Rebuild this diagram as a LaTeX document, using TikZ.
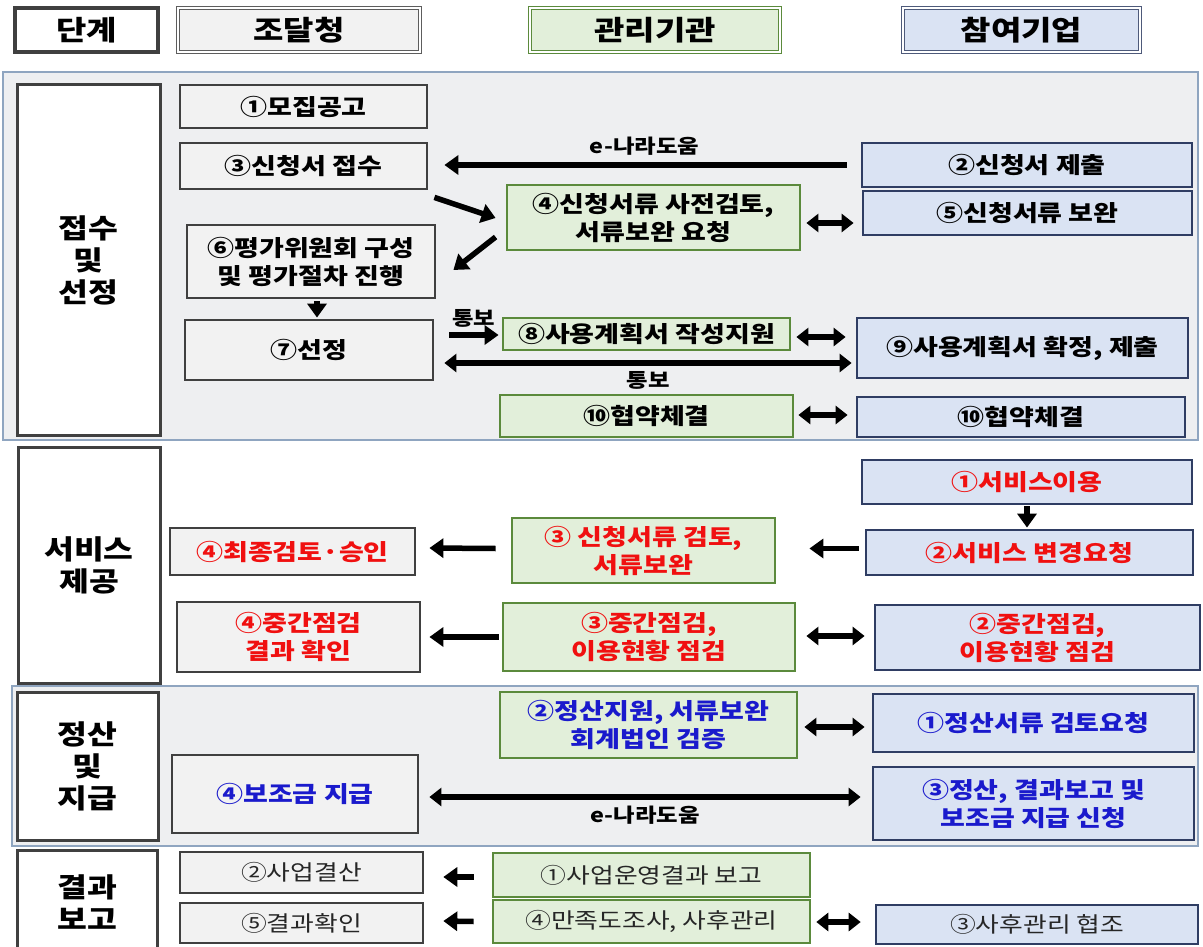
\documentclass[tikz,border=0pt]{standalone}
\usepackage{fontspec}
\setmainfont{Noto Sans CJK KR}[FakeStretch=1.2]
\usetikzlibrary{arrows.meta,calc}
\definecolor{bgray}{HTML}{F2F2F2}
\definecolor{bdark}{HTML}{404040}
\definecolor{lgreen}{HTML}{E2EFDA}
\definecolor{dgreen}{HTML}{5B8A3C}
\definecolor{lblue}{HTML}{DAE3F3}
\definecolor{dblue}{HTML}{2F3D63}
\definecolor{secbg}{HTML}{EEEFF1}
\definecolor{secline}{HTML}{8FA5C0}
\definecolor{tred}{HTML}{F01010}
\definecolor{tblue}{HTML}{1A1ACC}
\definecolor{tgray}{HTML}{262626}
\newcommand{\bx}[7]{\node[#2, minimum width={#5pt-#3pt}, minimum height={#6pt-#4pt}] (#1) at ({(#3+#5)/2},{(#4+#6)/2}) {#7};}
\tikzset{
  base/.style={align=center, inner sep=0pt, line width=2.8pt, font=\bfseries\fontsize{22.5}{28}\selectfont},
  gbox/.style={base, fill=bgray, draw=bdark},
  grbox/.style={base, fill=lgreen, draw=dgreen},
  blbox/.style={base, fill=lblue, draw=dblue},
  stage/.style={align=center, inner sep=0pt, fill=white, draw=bdark, line width=3pt, font=\bfseries\fontsize{27}{32}\selectfont},
  hdr/.style={align=center, inner sep=0pt, font=\bfseries\fontsize{27.5}{30}\selectfont},
  hdbl/.style={hdr, line width=1.5pt, double=white, double distance=1.3pt},
  arr/.style={line width=5.5pt, -{Triangle[length=14pt,width=19pt]}},
  darr/.style={line width=5.5pt, {Triangle[length=12pt,width=18pt]}-{Triangle[length=12pt,width=18pt]}},
  lbl/.style={font=\bfseries\fontsize{19.5}{22}\selectfont, inner sep=0pt},
  reg/.style={font=\fontsize{21.5}{26}\selectfont, text=tgray, line width=2.6pt},
}
\begin{document}
\begin{tikzpicture}[x=1pt,y=-1pt]
\useasboundingbox (0,0) rectangle (1203,947);
\fill[white] (0,0) rectangle (1203,947);
% header
\bx{hd}{hdr, fill=white, draw=bdark, line width=3.2pt}{15}{8}{158}{52}{단계}
\bx{hj}{hdbl, fill=bgray, draw=bdark!85}{178}{8}{420}{52}{조달청}
\bx{hg}{hdbl, fill=lgreen, draw=dgreen}{530}{8}{780}{52}{관리기관}
\bx{hb}{hdbl, fill=lblue, draw=dblue!85}{903}{8}{1140}{52}{참여기업}
% section frames
\draw[fill=secbg, draw=secline, line width=1.6pt] (3,72) rectangle (1198,440);
\draw[fill=secbg, draw=secline, line width=1.6pt] (12,686) rectangle (1198,846);
% section 1
\bx{st1}{stage}{17}{85}{160}{435}{접수\\및\\선정}
\bx{a1}{gbox}{180}{85}{427}{128}{①모집공고}
\bx{a3}{gbox}{180}{143}{427}{189}{③신청서 접수}
\bx{b2}{blbox}{862}{143}{1192}{187}{②신청서 제출}
\bx{g4}{grbox}{507}{185}{800}{250}{④신청서류 사전검토,\\서류보완 요청}
\bx{b5}{blbox}{863}{191}{1192}{235}{⑤신청서류 보완}
\bx{a6}{gbox}{187}{225}{435}{298}{⑥평가위원회 구성\\및 평가절차 진행}
\bx{a7}{gbox}{185}{320}{433}{380}{⑦선정}
\bx{g8}{grbox}{503}{318}{790}{350}{⑧사용계획서 작성지원}
\bx{b9}{blbox}{857}{318}{1188}{378}{⑨사용계획서 확정, 제출}
\bx{g10}{grbox}{500}{395}{793}{437}{⑩협약체결}
\bx{b10}{blbox}{857}{397}{1185}{437}{⑩협약체결}
\draw[arr, shorten <=14pt, shorten >=16pt] (b2.west) -- (b2.west -| a3.east) node[midway, above=7pt, lbl]{e-나라도움};
\draw[arr] ($(a3.south east)+(6,7)$) -- ($(g4.west)+(-10,0.5)$);
\draw[arr] ($(g4.west)+(-10,19.5)$) -- ($(a6.east)+(17,8.5)$);
\draw[darr] ($(g4.east)+(5,5.5)$) -- ($(b5.west)+(-8,10)$);
\draw[arr, shorten <=2pt, shorten >=1pt] ($(a6.south)+(6,0)$) -- ($(a6.south |- a7.north)+(6,0)$);
\draw[arr] ($(g8.west -| a7.east)+(15,1)$) node[lbl, anchor=south west, yshift=5pt]{통보} -- ($(g8.west)+(-3,1)$);
\draw[darr] ($(g8.east)+(5,3)$) -- ($(b9.west |- g8.east)+(-10,3)$);
\draw[darr] ($(a7.east)+(10,13)$) -- ($(b9.west)+(-4,15)$) node[midway, below=6pt, lbl]{통보};
\draw[darr] ($(g10.east)+(4,-1)$) -- ($(b10.west)+(-8,-2)$);
% section 2
\bx{st2}{stage}{18}{447}{160}{683}{서비스\\제공}
\bx{b1s}{blbox, text=tred}{862}{460}{1192}{504}{①서비스이용}
\bx{b2s}{blbox, text=tred}{866}{530}{1193}{575}{②서비스 변경요청}
\bx{g3s}{grbox, text=tred}{512}{518}{775}{583}{③ 신청서류 검토,\\서류보완}
\bx{a4s}{gbox, text=tred}{170}{528}{415}{575}{④최종검토·승인}
\bx{a4m}{gbox, text=tred}{177}{602}{420}{672}{④중간점검\\결과 확인}
\bx{g3m}{grbox, text=tred}{503}{603}{795}{671}{③중간점검,\\이용현황 점검}
\bx{b2m}{blbox, text=tred}{875}{605}{1200}{670}{②중간점검,\\이용현황 점검}
\draw[arr, shorten <=1pt, shorten >=1pt] (b1s.south) -- (b1s.south |- b2s.north);
\draw[arr] ($(b2s.west)+(-6,-4)$) -- ($(g3s.east)+(33,-2)$);
\draw[arr] ($(g3s.west)+(-15,-2)$) -- ($(a4s.east)+(13,-3.5)$);
\draw[arr] ($(g3m.west)+(-3,0)$) -- ($(a4m.east)+(8,0)$);
\draw[darr] ($(g3m.east)+(10,-1)$) -- ($(b2m.west)+(-9,-1.5)$);
% section 3
\bx{st3}{stage}{17}{692}{158}{840}{정산\\및\\지급}
\bx{g2p}{grbox, text=tblue}{500}{692}{797}{758}{②정산지원, 서류보완\\회계법인 검증}
\bx{b1p}{blbox, text=tblue}{873}{694}{1194}{752}{①정산서류 검토요청}
\bx{a4p}{gbox, text=tblue}{172}{755}{418}{833}{④보조금 지급}
\bx{b3p}{blbox, text=tblue}{873}{767}{1194}{840}{③정산, 결과보고 및\\보조금 지급 신청}
\draw[darr] ($(g2p.east)+(6,2)$) -- ($(b1p.west)+(-7,4)$);
\draw[darr] ($(a4p.east)+(10,3)$) -- ($(b3p.west)+(-11,-6.5)$) node[midway, below=6pt, lbl]{e-나라도움};
% section 4
\bx{st4}{stage}{17}{850}{157}{955}{결과\\보고}
\bx{a2r}{gbox, reg}{180}{852}{423}{893}{②사업결산}
\bx{g1r}{grbox, reg}{493}{853}{810}{897}{①사업운영결과 보고}
\bx{a5r}{gbox, reg}{180}{903}{423}{943}{⑤결과확인}
\bx{g4r}{grbox, reg}{493}{900}{810}{943}{④만족도조사, 사후관리}
\bx{b3r}{blbox, reg}{876}{905}{1198}{944}{③사후관리 협조}
\draw[arr] ($(g1r.west)+(-18,2)$) -- ($(a2r.east)+(19,4.5)$);
\draw[arr] ($(g4r.west)+(-18,0)$) -- ($(a5r.east)+(19,-2)$);
\draw[darr] ($(g4r.east)+(5,0.5)$) -- ($(b3r.west)+(-14,-2.5)$);
\end{tikzpicture}
\end{document}
